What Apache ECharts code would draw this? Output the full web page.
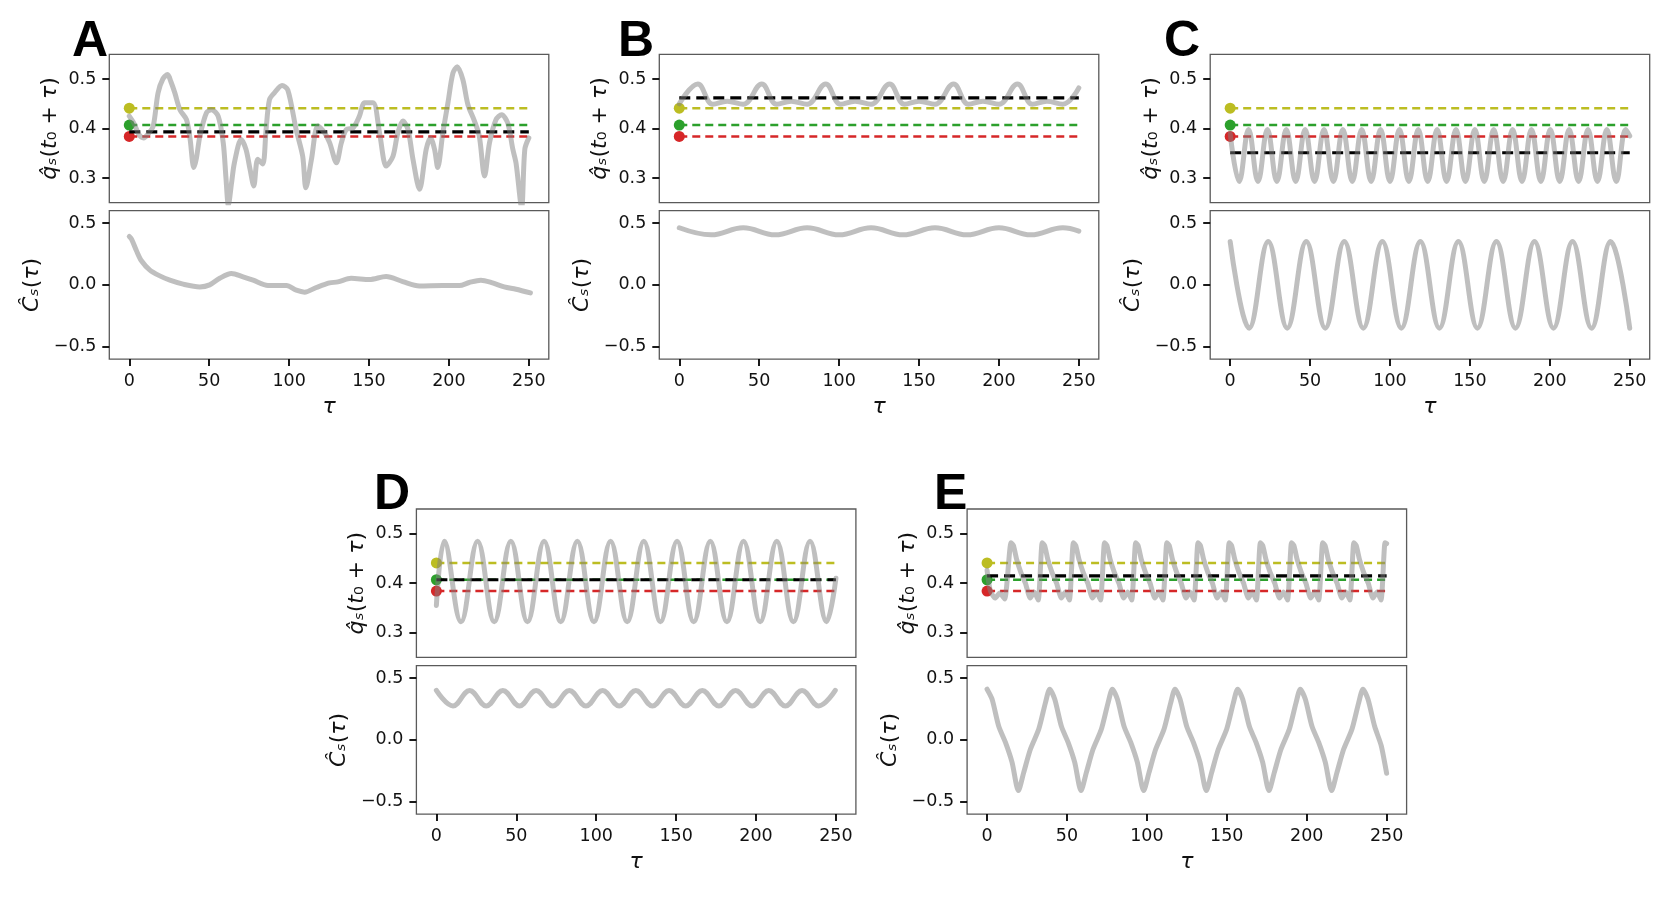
<!DOCTYPE html>
<html>
<head>
<meta charset="utf-8">
<title>q and C panels</title>
<script src="https://cdn.jsdelivr.net/npm/echarts@6/dist/echarts.min.js"></script>
<style>
  html, body { margin: 0; padding: 0; background: #fff; }
  #main { width: 1661px; height: 906px; }
</style>
</head>
<body>
<div id="main"></div>
<script>
// reference levels, same in every panel
var levelYellow = 0.441;
var levelGreen = 0.407;
var levelRed = 0.384;
var panelNames = ['A', 'B', 'C', 'D', 'E'];
var meanLevels = [0.393, 0.462, 0.351, 0.407, 0.415];

var tauTicks = [0, 50, 100, 150, 200, 250];
var qTicks = [0.3, 0.4, 0.5];
var cTicks = [-0.5, 0, 0.5];

// [tau, value]
var qA = [[0,0.425],[3,0.41],[6,0.388],[9,0.381],[12,0.39],[15,0.405],[18,0.472],[21,0.5],[24,0.509],[26,0.495],
  [28.5,0.472],[31.7,0.438],[35.8,0.418],[38,0.38],[40.4,0.321],[42,0.34],[44.2,0.385],[48.3,0.432],[51.5,0.438],
  [55.6,0.425],[58.8,0.371],[60.5,0.3],[62,0.245],[64,0.29],[65.8,0.331],[70,0.378],[73,0.358],[75.6,0.317],
  [77.9,0.284],[80.4,0.338],[83.5,0.328],[85.6,0.398],[87.7,0.458],[90.8,0.472],[95.6,0.487],[99.2,0.478],
  [104.4,0.398],[108.5,0.344],[110.5,0.28],[114,0.338],[118,0.405],[122.3,0.391],[125.4,0.371],[129.6,0.331],
  [132.7,0.371],[135.8,0.398],[140,0.401],[144,0.425],[147.3,0.452],[152.5,0.452],[156.6,0.391],[160.8,0.324],
  [165,0.344],[168,0.391],[171.2,0.415],[174.4,0.398],[177.5,0.338],[181.6,0.277],[185.8,0.358],[188.5,0.381],
  [191,0.358],[193,0.321],[196.2,0.391],[199.4,0.452],[202.5,0.512],[205.2,0.525],[208.7,0.499],[211.9,0.448],
  [216,0.415],[219,0.385],[222.3,0.304],[225.4,0.371],[229.5,0.418],[233,0.428],[236.8,0.411],[240,0.358],
  [242,0.33],[245.5,0.24],[247.5,0.358],[250,0.381]];
var cA = [[0,0.392],[1.4,0.37],[4.5,0.276],[7.6,0.195],[12.9,0.119],[19.1,0.073],[25.4,0.038],[33.7,0.006],
  [44.1,-0.016],[50.3,0],[56.6,0.054],[63.9,0.092],[71.2,0.065],[77.5,0.038],[86.8,-0.005],[98.3,-0.005],
  [104.5,-0.043],[109.7,-0.059],[117,-0.021],[125.3,0.016],[130.5,0.024],[138.8,0.054],[150.3,0.043],
  [160.7,0.068],[171.1,0.027],[181.5,-0.008],[196.1,-0.005],[206.5,-0.005],[212.7,0.019],[220,0.038],
  [227.3,0.016],[234.6,-0.016],[242,-0.035],[251,-0.065]];

var qB = [[0,0.45],[11.6,0.49],[21,0.449],[30,0.455],[40,0.449],[51.6,0.49],[61,0.449],[70,0.455],[80,0.449],
  [91.6,0.49],[101,0.449],[110,0.455],[120,0.449],[131.6,0.49],[141,0.449],[150,0.455],[160,0.449],[171.6,0.49],
  [181,0.449],[190,0.455],[200,0.449],[211.6,0.49],[221,0.449],[230,0.455],[240,0.449],[250,0.482]];
var cB = [[0,0.462],[20,0.405],[40,0.462],[60,0.405],[80,0.462],[100,0.405],[120,0.462],[140,0.405],[160,0.462],
  [180,0.405],[200,0.462],[220,0.405],[240,0.462],[250,0.435]];

var qC = [[0,0.39],[5.6,0.293],[11.5,0.398],[17.4,0.293],[23.3,0.398],[29.2,0.293],[35.1,0.398],[41,0.293],
  [46.9,0.398],[52.8,0.293],[58.7,0.398],[64.6,0.293],[70.5,0.398],[76.4,0.293],[82.3,0.398],[88.2,0.293],
  [94.1,0.398],[100,0.293],[105.9,0.398],[111.8,0.293],[117.7,0.398],[123.6,0.293],[129.5,0.398],[135.4,0.293],
  [141.3,0.398],[147.2,0.293],[153.1,0.398],[159,0.293],[164.9,0.398],[170.8,0.293],[176.7,0.398],[182.6,0.293],
  [188.5,0.398],[194.4,0.293],[200.3,0.398],[206.2,0.293],[212.1,0.398],[218,0.293],[223.9,0.398],[229.8,0.293],
  [235.7,0.398],[241.6,0.293],[247.5,0.398],[250,0.385]];
var cC = [[0,0.35],[11.9,-0.35],[23.8,0.35],[35.7,-0.35],[47.6,0.35],[59.5,-0.35],[71.4,0.35],[83.3,-0.35],
  [95.2,0.35],[107.1,-0.35],[119,0.35],[130.9,-0.35],[142.8,0.35],[154.7,-0.35],[166.6,0.35],[178.5,-0.35],
  [190.4,0.35],[202.3,-0.35],[214.2,0.35],[226.1,-0.35],[238,0.35],[250,-0.35]];

var qD = [[0,0.355],[5,0.485],[15.4,0.322],[25.8,0.485],[36.2,0.322],[46.6,0.485],[57,0.322],[67.4,0.485],
  [77.8,0.322],[88.2,0.485],[98.6,0.322],[109,0.485],[119.4,0.322],[129.8,0.485],[140.2,0.322],[150.6,0.485],
  [161,0.322],[171.4,0.485],[181.8,0.322],[192.2,0.485],[202.6,0.322],[213,0.485],[223.4,0.322],[233.8,0.485],
  [244.2,0.322],[250,0.41]];
var cD = [[0,0.40],[10.4,0.275],[20.8,0.40],[31.2,0.275],[41.6,0.40],[52,0.275],[62.4,0.40],[72.8,0.275],
  [83.2,0.40],[93.6,0.275],[104,0.40],[114.4,0.275],[124.8,0.40],[135.2,0.275],[145.6,0.40],[156,0.275],
  [166.4,0.40],[176.8,0.275],[187.2,0.40],[197.6,0.275],[208,0.40],[218.4,0.275],[228.8,0.40],[239.2,0.275],
  [249.6,0.40]];

var qE = [[0,0.426],[2,0.385],[5,0.37],[8,0.38],[11,0.368],
  [15,0.482],[16.5,0.476],[18.5,0.448],[21,0.423],[24,0.40],[27,0.37],[29.5,0.382],[32,0.366],
  [34.5,0.482],[36,0.476],[38,0.448],[40.5,0.423],[43.5,0.40],[46.5,0.37],[49,0.382],[51.5,0.366],
  [54,0.482],[55.5,0.476],[57.5,0.448],[60,0.423],[63,0.40],[66,0.37],[68.5,0.382],[71,0.366],
  [73.5,0.482],[75,0.476],[77,0.448],[79.5,0.423],[82.5,0.40],[85.5,0.37],[88,0.382],[90.5,0.366],
  [93,0.482],[94.5,0.476],[96.5,0.448],[99,0.423],[102,0.40],[105,0.37],[107.5,0.382],[110,0.366],
  [112.5,0.482],[114,0.476],[116,0.448],[118.5,0.423],[121.5,0.40],[124.5,0.37],[127,0.382],[129.5,0.366],
  [132,0.482],[133.5,0.476],[135.5,0.448],[138,0.423],[141,0.40],[144,0.37],[146.5,0.382],[149,0.366],
  [151.5,0.482],[153,0.476],[155,0.448],[157.5,0.423],[160.5,0.40],[163.5,0.37],[166,0.382],[168.5,0.366],
  [171,0.482],[172.5,0.476],[174.5,0.448],[177,0.423],[180,0.40],[183,0.37],[185.5,0.382],[188,0.366],
  [190.5,0.482],[192,0.476],[194,0.448],[196.5,0.423],[199.5,0.40],[202.5,0.37],[205,0.382],[207.5,0.366],
  [210,0.482],[211.5,0.476],[213.5,0.448],[216,0.423],[219,0.40],[222,0.37],[224.5,0.382],[227,0.366],
  [229.5,0.482],[231,0.476],[233,0.448],[235.5,0.423],[238.5,0.40],[241.5,0.37],[244,0.382],[246.5,0.366],
  [249,0.482],[250,0.48]];
var cE = [[0,0.41],[3.1,0.33],[7.3,0.11],[11.5,-0.02],[15.6,-0.18],[19.6,-0.41],[22.9,-0.265],[27.1,-0.076],[32.3,0.086],[36.5,0.30],
  [39.2,0.41],[42.3,0.33],[46.5,0.11],[50.7,-0.02],[54.8,-0.18],[58.8,-0.41],[62.1,-0.265],[66.3,-0.076],[71.5,0.086],[75.7,0.30],
  [78.4,0.41],[81.5,0.33],[85.7,0.11],[89.9,-0.02],[94,-0.18],[98,-0.41],[101.3,-0.265],[105.5,-0.076],[110.7,0.086],[114.9,0.30],
  [117.6,0.41],[120.7,0.33],[124.9,0.11],[129.1,-0.02],[133.2,-0.18],[137.2,-0.41],[140.5,-0.265],[144.7,-0.076],[149.9,0.086],[154.1,0.30],
  [156.8,0.41],[159.9,0.33],[164.1,0.11],[168.3,-0.02],[172.4,-0.18],[176.4,-0.41],[179.7,-0.265],[183.9,-0.076],[189.1,0.086],[193.3,0.30],
  [196,0.41],[199.1,0.33],[203.3,0.11],[207.5,-0.02],[211.6,-0.18],[215.6,-0.41],[218.9,-0.265],[223.1,-0.076],[228.3,0.086],[232.5,0.30],
  [235.2,0.41],[238.3,0.33],[242.5,0.11],[246.7,-0.05],[250,-0.27]];

var qSeries = [qA, qB, qC, qD, qE];
var cSeries = [cA, cB, cC, cD, cE];
var qSmooth = [0.3, 0.4, 0.4, 0.4, 0.2];
var cSmooth = [0.3, 0.4, 0.4, 0.4, 0.25];

// panel frames in px: left, top of upper box, top of lower box
var boxW = 439.5, boxH = 148.4;
var panelPos = [
  [109.3, 54.3, 210.7],
  [659.3, 54.3, 210.7],
  [1210.2, 54.3, 210.7],
  [416.4, 509, 665.7],
  [967.1, 509, 665.7]
];

var FONT = '"DejaVu Sans", Verdana, sans-serif';
var INK = '#111';
var GREY = 'rgba(128,128,128,0.5)';

function fmtTick(v) {
  return v.toFixed(1).replace('-', '\u2212');
}

var nameRich = {
  it: { fontFamily: FONT, fontSize: 22, fontStyle: 'italic', color: INK },
  n: { fontFamily: FONT, fontSize: 22, color: INK }
};

var tickStyle = { color: '#000', width: 1.8 };
var labelStyle = { fontFamily: FONT, fontSize: 17.5, color: INK, margin: 13 };
var grids = [], xAxes = [], yAxes = [], series = [], letters = [];

function grey(idx, data, smooth) {
  return { type: 'line', xAxisIndex: idx, yAxisIndex: idx, data: data, smooth: smooth,
    showSymbol: false, silent: true, lineStyle: { color: GREY, width: 5, cap: 'round', join: 'round' } };
}

panelPos.forEach(function (p, i) {
  var top = 2 * i, bot = 2 * i + 1;
  grids.push({ left: p[0], top: p[1], width: boxW, height: boxH, show: true,
    borderColor: '#5a5a5a', borderWidth: 1.3, backgroundColor: 'transparent', outerBoundsMode: 'none' });
  grids.push({ left: p[0], top: p[2], width: boxW, height: boxH, show: true,
    borderColor: '#5a5a5a', borderWidth: 1.3, backgroundColor: 'transparent', outerBoundsMode: 'none' });

  xAxes.push({ type: 'value', gridIndex: top, min: -12.5, max: 262.5,
    axisLine: { show: false, onZero: false }, axisTick: { show: false }, axisLabel: { show: false },
    splitLine: { show: false } });
  xAxes.push({ type: 'value', gridIndex: bot, min: -12.5, max: 262.5, position: 'bottom',
    axisLine: { show: false, onZero: false }, splitLine: { show: false },
    axisTick: { show: true, length: 7, customValues: tauTicks, lineStyle: tickStyle },
    axisLabel: Object.assign({ customValues: tauTicks }, labelStyle),
    name: '{it|\u03c4}', nameLocation: 'middle', nameGap: 37, nameMoveOverlap: false,
    nameTextStyle: { rich: nameRich } });

  yAxes.push({ type: 'value', gridIndex: top, min: 0.25, max: 0.55, position: 'left',
    axisLine: { show: false, onZero: false }, splitLine: { show: false },
    axisTick: { show: true, length: 7, customValues: qTicks, lineStyle: tickStyle },
    axisLabel: Object.assign({ customValues: qTicks, formatter: fmtTick }, labelStyle),
    name: '{it|q\u0302\u209b}{n|(}{it|t}{n|\u2080 + }{it|\u03c4}{n|)}',
    nameLocation: 'middle', nameRotate: 90, nameGap: 48, nameMoveOverlap: false,
    nameTextStyle: { rich: nameRich } });
  yAxes.push({ type: 'value', gridIndex: bot, min: -0.6, max: 0.6, position: 'left',
    axisLine: { show: false, onZero: false }, splitLine: { show: false },
    axisTick: { show: true, length: 7, customValues: cTicks, lineStyle: tickStyle },
    axisLabel: Object.assign({ customValues: cTicks, formatter: fmtTick }, labelStyle),
    name: '{it|C\u0302\u209b}{n|(}{it|\u03c4}{n|)}',
    nameLocation: 'middle', nameRotate: 90, nameGap: 66, nameMoveOverlap: false,
    nameTextStyle: { rich: nameRich } });

  // dashed reference levels
  [[levelYellow, '#bcbd22'], [levelGreen, '#2ca02c'], [levelRed, '#d62728']].forEach(function (l) {
    series.push({ type: 'line', xAxisIndex: top, yAxisIndex: top, data: [[0, l[0]], [250, l[0]]],
      showSymbol: false, silent: true, lineStyle: { color: l[1], width: 2.5, type: [8, 5] } });
  });
  series.push({ type: 'line', xAxisIndex: top, yAxisIndex: top, data: [[0, meanLevels[i]], [250, meanLevels[i]]],
    showSymbol: false, silent: true, lineStyle: { color: '#000', width: 3.2, type: [11, 6] } });
  series.push({ type: 'scatter', xAxisIndex: top, yAxisIndex: top, symbolSize: 11, silent: true,
    itemStyle: { opacity: 1 },
    data: [
      { value: [0, levelYellow], itemStyle: { color: '#bcbd22', opacity: 1 } },
      { value: [0, levelGreen], itemStyle: { color: '#2ca02c', opacity: 1 } },
      { value: [0, levelRed], itemStyle: { color: '#d62728', opacity: 1 } }
    ] });
  series.push(grey(top, qSeries[i], qSmooth[i]));
  series.push(grey(bot, cSeries[i], cSmooth[i]));
});

var letterPos = [[72, 42], [618, 42], [1164, 42], [374, 495], [934, 495]];
panelNames.forEach(function (name, i) {
  letters.push({ type: 'text', x: letterPos[i][0], y: letterPos[i][1], silent: true,
    style: { text: name, fill: '#000', font: 'bold 50px "Liberation Sans", Arial, sans-serif',
      align: 'left', verticalAlign: 'middle', textAlign: 'left', textVerticalAlign: 'middle' } });
});

var myChart = echarts.init(document.getElementById('main'), null, { renderer: 'canvas' });
myChart.setOption({
  animation: false,
  backgroundColor: '#fff',
  textStyle: { fontFamily: FONT },
  grid: grids,
  xAxis: xAxes,
  yAxis: yAxes,
  series: series,
  graphic: { elements: letters }
});
</script>
</body>
</html>
